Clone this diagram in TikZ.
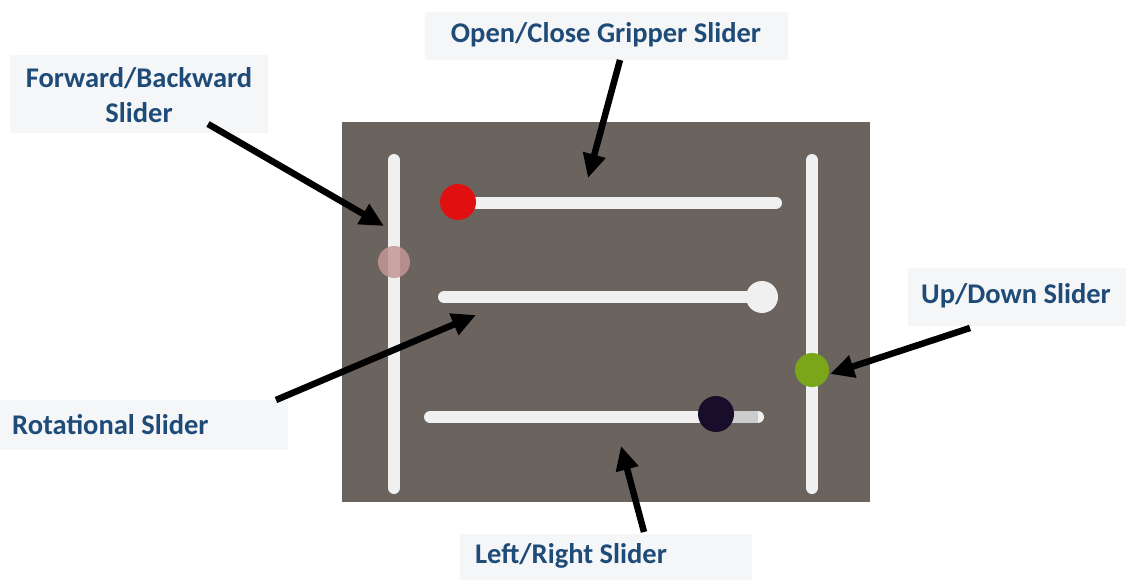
\documentclass[tikz,border=0pt]{standalone}
\usepackage{fontspec}
\setmainfont{Carlito}
\usetikzlibrary{arrows.meta}
\definecolor{panel}{RGB}{107,99,94}
\definecolor{track}{RGB}{240,240,240}
\definecolor{lbl}{RGB}{31,75,120}
\definecolor{lblbg}{RGB}{245,246,248}
\definecolor{knobred}{RGB}{224,16,16}
\definecolor{knobgreen}{RGB}{123,166,26}
\definecolor{knobnavy}{RGB}{24,14,44}
\definecolor{knobpink}{RGB}{196,150,150}
\tikzset{
  lbltext/.style={text=lbl, font=\bfseries\fontsize{28.5}{35}\selectfont, align=center, inner sep=0pt},
  trackline/.style={draw=track, line width=12pt, line cap=round},
  knob/.style={circle, inner sep=0pt, minimum size=#1},
  callout/.style={draw=black, line width=6.5pt, -{Triangle[length=24pt,width=22pt]}},
}
\begin{document}
\begin{tikzpicture}[x=1pt,y=-1pt]
\useasboundingbox (0,0) rectangle (1126,580);
\fill[white] (0,0) rectangle (1126,580);
% panel
\fill[panel] (342,122) rectangle (870,502);
% tracks
\coordinate (lvT) at (394,160); \coordinate (lvB) at (394,488);
\coordinate (rvT) at (812,160); \coordinate (rvB) at (812,488);
\coordinate (h1L) at (458,203); \coordinate (h1R) at (776,203);
\coordinate (h2L) at (444,297); \coordinate (h2R) at (762,297);
\coordinate (h3L) at (430,417); \coordinate (h3R) at (758,417);
\draw[trackline] (lvT) -- (lvB);
\draw[trackline] (rvT) -- (rvB);
\draw[trackline] (h1L) -- (h1R);
\draw[trackline] (h2L) -- (h2R);
\draw[trackline] (h3L) -- (h3R);
\draw[draw=track!85!black, line width=12pt] (716,417) -- (758,417);
% knobs
\node[knob=32pt, fill=knobpink, opacity=0.85] (kpink) at (394,262) {};
\node[knob=34pt, fill=knobgreen] (kgreen) at (812,370) {};
\node[knob=36pt, fill=knobred] (kred) at (458,202) {};
\node[knob=32pt, fill=track] (kwhite) at (762,297) {};
\node[knob=36pt, fill=knobnavy] (knavy) at (716,414) {};
% label boxes
\fill[lblbg] (10,55) rectangle (268,133);
\node[lbltext] (lfb) at (139,95) {Forward/Backward\\Slider};
\fill[lblbg] (425,12) rectangle (788,60);
\node[lbltext] (loc) at (606,35) {Open/Close Gripper Slider};
\fill[lblbg] (908,268) rectangle (1126,326);
\node[lbltext] (lud) at (1016,296) {Up/Down Slider};
\fill[lblbg] (0,400) rectangle (288,450);
\node[lbltext, anchor=west] (lrot) at (12,425) {Rotational Slider};
\fill[lblbg] (460,534) rectangle (752,580);
\node[lbltext] (llr) at (571,556) {Left/Right Slider};
% arrow coordinates
\coordinate (afbS) at (208,124); \coordinate (afbE) at (384,226);
\coordinate (aocS) at (620,60);  \coordinate (aocE) at (588,178);
\coordinate (audS) at (970,328); \coordinate (audE) at (830,374);
\coordinate (arotS) at (276,400); \coordinate (arotE) at (476,315);
\coordinate (alrS) at (644,532); \coordinate (alrE) at (621,446);
\draw[callout] (afbS) -- (afbE);
\draw[callout] (aocS) -- (aocE);
\draw[callout] (audS) -- (audE);
\draw[callout] (arotS) -- (arotE);
\draw[callout] (alrS) -- (alrE);
\end{tikzpicture}
\end{document}
